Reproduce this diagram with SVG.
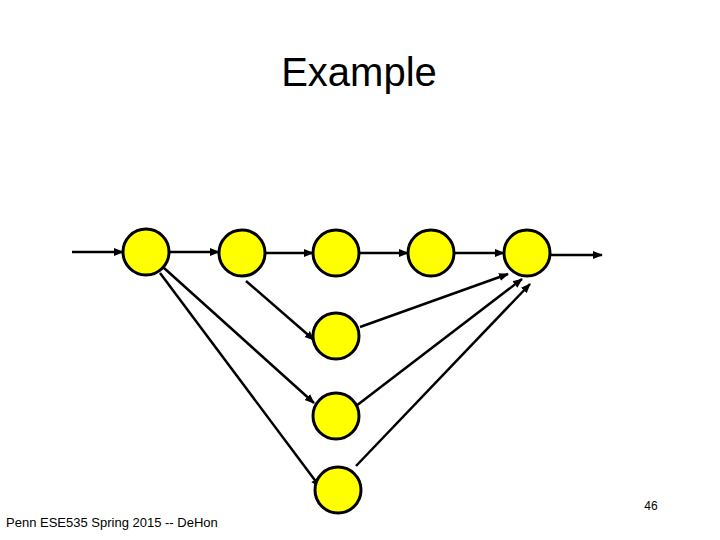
<svg xmlns="http://www.w3.org/2000/svg" width="720" height="540" viewBox="0 0 720 540">
<style>
.n{fill:#ffff00;stroke:#000;stroke-width:3}
.e{stroke:#000;stroke-width:2.5;fill:none;marker-end:url(#a)}
.t{font-family:"Liberation Sans",Arial,sans-serif;fill:#000}
</style>
<defs><marker id="a" viewBox="0 0 10 10" refX="9" refY="5" markerWidth="4" markerHeight="4" orient="auto" markerUnits="strokeWidth"><path d="M0,1 L10,5 L0,9 z" fill="#000"/></marker></defs>
<rect width="720" height="540" fill="#fff"/>
<text class="t" x="359" y="86" font-size="40" text-anchor="middle">Example</text>
<g id="connectors">
<line class="e" x1="72" y1="252" x2="123" y2="252"/>
<line class="e" x1="169" y1="252" x2="219" y2="252"/>
<line class="e" x1="265" y1="253" x2="313" y2="253"/>
<line class="e" x1="359" y1="253" x2="408" y2="253"/>
<line class="e" x1="454" y1="253" x2="504" y2="253"/>
<line class="e" x1="550" y1="255" x2="602" y2="255"/>
<line class="e" x1="164" y1="268" x2="314" y2="403"/>
<line class="e" x1="160" y1="273" x2="320" y2="487"/>
<line class="e" x1="246" y1="281" x2="314" y2="340"/>
<line class="e" x1="360" y1="327" x2="508" y2="274"/>
<line class="e" x1="356" y1="406" x2="522" y2="279"/>
<line class="e" x1="356" y1="466" x2="530" y2="284"/>
</g>
<g id="n1"><circle class="n" cx="146" cy="252" r="23"/></g>
<g id="n2"><circle class="n" cx="242" cy="253" r="23"/></g>
<g id="n3"><circle class="n" cx="336" cy="253" r="23"/></g>
<g id="n4"><circle class="n" cx="431" cy="253" r="23"/></g>
<g id="n5"><circle class="n" cx="527" cy="253" r="23"/></g>
<g id="n6"><circle class="n" cx="336" cy="336" r="23"/></g>
<g id="n7"><circle class="n" cx="336" cy="416" r="23"/></g>
<g id="n8"><circle class="n" cx="338" cy="490" r="23"/></g>
<text class="t" x="651" y="510" font-size="12" text-anchor="middle">46</text>
<text class="t" x="6" y="527" font-size="13">Penn ESE535 Spring 2015 -- DeHon</text>
</svg>
